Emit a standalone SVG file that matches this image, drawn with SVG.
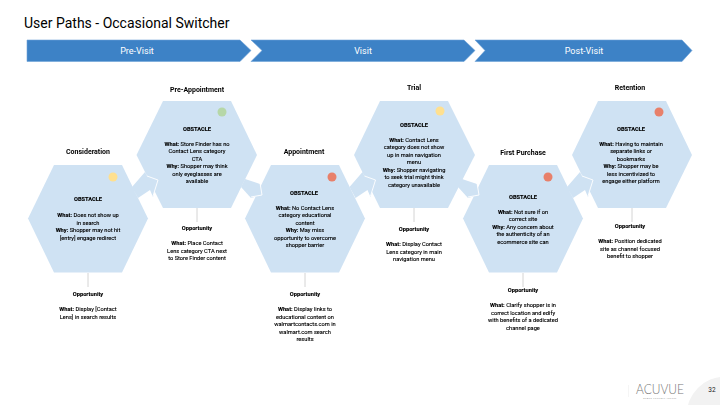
<svg xmlns="http://www.w3.org/2000/svg" width="720" height="405" viewBox="0 0 720 405">
<style>
text{font-family:Roboto,"Liberation Sans",sans-serif;text-anchor:middle;fill:#000}
.title{font-size:14px;text-anchor:start}
.phase{font-size:9px;fill:#fff}
.bar{fill:#3D82C6;stroke:#6FA3D8;stroke-width:.6}
.hex{fill:#CFE2F3}
.head{font-size:7px;font-weight:700}
.t{font-size:5.7px;stroke:#000;stroke-width:.12}
.t tspan{font-weight:700}
.cap{font-weight:700}
.soft{filter:url(#b)}
.y{fill:#FFE08F}.g{fill:#B6D7A8}.r{fill:#E8806A}
.link{stroke:#D4D4D4;stroke-width:1;fill:none}
.arrow{fill:#CFE2F3}
.edge{fill:none;stroke:#fff;stroke-width:.9}
</style>
<defs>
<filter id="b" x="-5%" y="-5%" width="110%" height="110%"><feGaussianBlur stdDeviation="0.6"/></filter>
</defs>
<rect width="720" height="405" fill="#fff"/>
<text class="title" x="24" y="27.500">User Paths - Occasional Switcher</text>
<g id="phases">
<polygon class="bar" points="27,40 240,40 251,50.5 240,61.5 27,61.5"/>
<polygon class="bar" points="251,40 464,40 475,50.5 464,61.5 251,61.5 262,50.5"/>
<polygon class="bar" points="475,40 682,40 692,50.5 682,61.5 475,61.5 485,50.5"/>
<text class="phase" x="137" y="53.500">Pre-Visit</text>
<text class="phase" x="363" y="53.500">Visit</text>
<text class="phase" x="584" y="53.500">Post-Visit</text>
</g>
<g id="node-consideration" class="soft">
<polygon class="hex" points="28,218.5 54,165 122,165 148,218.5 122,272.5 54,272.5"/>
<circle class="y" cx="113" cy="177" r="4.500"/>
<text class="head" x="88" y="153.500">Consideration</text>
<text class="t cap" x="88" y="201">OBSTACLE</text>
<text class="t" x="88" y="217"><tspan>What:</tspan> Does not show up</text>
<text class="t" x="88" y="224.500">in search</text>
<text class="t" x="88" y="232"><tspan>Why:</tspan> Shopper may not hit</text>
<text class="t" x="88" y="240">[entry] engage redirect</text>
<text class="t cap" x="88" y="296">Opportunity</text>
<text class="t" x="88" y="311"><tspan>What:</tspan> Display [Contact</text>
<text class="t" x="88" y="319">Lens] in search results</text>
</g>
<g id="node-pre-appointment" class="soft">
<polygon class="hex" points="136.5,155 163,101 231,101 257,155 231,208 163,208"/>
<circle class="g" cx="222" cy="112" r="4.500"/>
<text class="head" x="197" y="91.500">Pre-Appointment</text>
<text class="t cap" x="197" y="131">OBSTACLE</text>
<text class="t" x="197" y="146"><tspan>What:</tspan> Store Finder has no</text>
<text class="t" x="197" y="153">Contact Lens category</text>
<text class="t" x="197" y="161">CTA</text>
<text class="t" x="197" y="168"><tspan>Why:</tspan> Shopper may think</text>
<text class="t" x="197" y="176">only eyeglasses are</text>
<text class="t" x="197" y="183">available</text>
<text class="t cap" x="197" y="230">Opportunity</text>
<text class="t" x="197" y="245"><tspan>What:</tspan> Place Contact</text>
<text class="t" x="197" y="253">Lens category CTA next</text>
<text class="t" x="197" y="260">to Store Finder content</text>
</g>
<g id="node-appointment" class="soft">
<polygon class="hex" points="245,218.500 271,165 339,165 365,218.500 339,272.500 271,272.500"/>
<circle class="r" cx="332" cy="177" r="4.500"/>
<text class="head" x="304" y="153.500">Appointment</text>
<text class="t cap" x="304" y="195">OBSTACLE</text>
<text class="t" x="305" y="210"><tspan>What:</tspan> No Contact Lens</text>
<text class="t" x="305" y="217">category educational</text>
<text class="t" x="305" y="225">content</text>
<text class="t" x="305" y="232"><tspan>Why:</tspan> May miss</text>
<text class="t" x="305" y="240">opportunity to overcome</text>
<text class="t" x="305" y="247">shopper barrier</text>
<text class="t cap" x="305" y="296">Opportunity</text>
<text class="t" x="305" y="311"><tspan>What:</tspan> Display links to</text>
<text class="t" x="305" y="319">educational content on</text>
<text class="t" x="305" y="326">walmartcontacts.com in</text>
<text class="t" x="305" y="334">walmart.com search</text>
<text class="t" x="305" y="341">results</text>
</g>
<g id="node-trial" class="soft">
<polygon class="hex" points="354,155 380,101 448,101 475,155 448,208 380,208"/>
<circle class="y" cx="440" cy="111" r="4.500"/>
<text class="head" x="414" y="89.500">Trial</text>
<text class="t cap" x="414" y="127">OBSTACLE</text>
<text class="t" x="414" y="142"><tspan>What:</tspan> Contact Lens</text>
<text class="t" x="414" y="149">category does not show</text>
<text class="t" x="414" y="157">up in main navigation</text>
<text class="t" x="414" y="164">menu</text>
<text class="t" x="414" y="172"><tspan>Why:</tspan> Shopper navigating</text>
<text class="t" x="414" y="179">to seek trial might think</text>
<text class="t" x="414" y="187">category unavailable</text>
<text class="t cap" x="414" y="231">Opportunity</text>
<text class="t" x="414" y="246"><tspan>What:</tspan> Display Contact</text>
<text class="t" x="414" y="254">Lens category in main</text>
<text class="t" x="414" y="261">navigation menu</text>
</g>
<g id="node-first-purchase" class="soft">
<polygon class="hex" points="463,218.500 489,165 557,165 583,218.500 557,272.500 489,272.500"/>
<circle class="r" cx="548" cy="177" r="4.500"/>
<text class="head" x="523" y="154.500">First Purchase</text>
<text class="t cap" x="523" y="199">OBSTACLE</text>
<text class="t" x="523" y="214"><tspan>What:</tspan> Not sure if on</text>
<text class="t" x="523" y="221">correct site</text>
<text class="t" x="523" y="229"><tspan>Why:</tspan> Any concern about</text>
<text class="t" x="523" y="236">the authenticity of an</text>
<text class="t" x="523" y="244">ecommerce site can</text>
<text class="t cap" x="523" y="292">Opportunity</text>
<text class="t" x="523" y="307"><tspan>What:</tspan> Clarify shopper is in</text>
<text class="t" x="523" y="315">correct location and edify</text>
<text class="t" x="523" y="322">with benefits of a dedicated</text>
<text class="t" x="523" y="330">channel page</text>
</g>
<g id="node-retention" class="soft">
<polygon class="hex" points="572,155 598,101 666,101 692,155 666,208 598,208"/>
<circle class="r" cx="659" cy="112" r="4.500"/>
<text class="head" x="630" y="89.500">Retention</text>
<text class="t cap" x="631" y="131">OBSTACLE</text>
<text class="t" x="631" y="146"><tspan>What:</tspan> Having to maintain</text>
<text class="t" x="631" y="153">separate links or</text>
<text class="t" x="631" y="161">bookmarks</text>
<text class="t" x="631" y="168"><tspan>Why:</tspan> Shopper may be</text>
<text class="t" x="631" y="176">less incentivized to</text>
<text class="t" x="631" y="183">engage either platform</text>
<text class="t cap" x="630" y="228">Opportunity</text>
<text class="t" x="630" y="243"><tspan>What:</tspan> Position dedicated</text>
<text class="t" x="630" y="251">site as channel focused</text>
<text class="t" x="630" y="258">benefit to shopper</text>
</g>
<g id="connectors" class="soft">
<path class="link" d="M88 273V287M197 208V222M305 273V287M414 208V222M523 273V287M632 208V222"/>
<g id="up"><polygon class="arrow" points="132,187 145,172 147,176 158,180 153,197 150,190 138,198"/><polyline class="edge" points="147,176 158,180 153,196"/></g>
<g id="down"><polygon class="arrow" points="245,179 260,184 262,195 251,198 241,187"/><polyline class="edge" points="260,183 262,195 251,197"/></g>
<use href="#up" x="217.500"/>
<use href="#down" x="217"/>
<use href="#up" x="435"/>
</g>
<g id="footer">
<circle cx="725" cy="415" r="38.300" fill="#F2F2F2"/>
<text x="712" y="391.500" style="font-size:6.500px;fill:#222">32</text>
<path d="M628.500 385V397" stroke="#EEE" stroke-width=".6"/>
<text x="660" y="394" style="font-family:Lato,sans-serif;font-weight:300;font-size:14px;fill:#777" textLength="48" lengthAdjust="spacingAndGlyphs">ACUVUE</text>
<text x="660" y="399" style="font-size:2px;fill:#999;letter-spacing:.5px">BRAND CONTACT LENSES</text>
</g>
</svg>
